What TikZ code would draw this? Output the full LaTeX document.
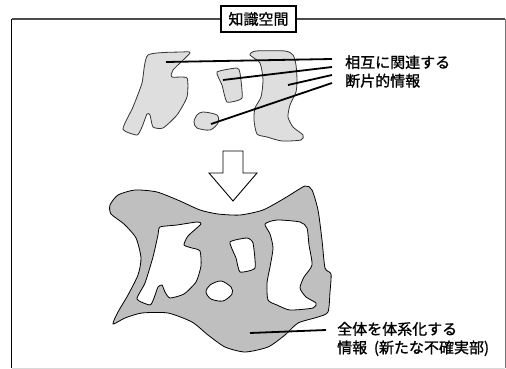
\documentclass[tikz,border=0pt]{standalone}
\usepackage{fontspec}
\setmainfont{Noto Sans CJK JP}[FakeBold=1.2,AutoFakeBold=1.2]
\begin{document}
\begin{tikzpicture}[x=1pt,y=-1pt,
  frag/.style={draw=black!80, line width=0.8pt, fill=black!13},
  whole/.style={draw=black, line width=0.8pt, fill=black!25, even odd rule},
  leader/.style={draw=black, line width=1.8pt},
  lbl/.style={inner sep=0pt, anchor=west, align=left, font=\fontsize{15}{18.5}\selectfont}]
\useasboundingbox (0,0) rectangle (506,369);
% frame
\draw[black!15, line width=1pt] (11.5,368) -- (505,368);
\draw[black!55, line width=1pt] (505,19) -- (505,368);
\draw[black!70, line width=1.2pt] (11.5,19) -- (505,19);
\draw[black, line width=1.3pt] (11.5,19) -- (11.5,368);
\node[draw, line width=1.6pt, fill=white, minimum width=75pt, minimum height=26pt, inner sep=0pt,
  font=\fontsize{15}{18}\selectfont] (title) at (258.5,19) {知識空間};
% fragments
\draw[frag] plot[smooth cycle, tension=0.35] coordinates {(148,55) (182,52) (190,53) (173,70) (172,77) (187,78) (187,97) (177,115) (163,128) (153,127) (150,115) (147,114) (142,127) (137,135) (123,129) (133,107) (142,83)};
\draw[frag] plot[smooth cycle, tension=0.3] coordinates {(217,72) (237,68) (240,73) (242,98) (227,102) (222,85)};
\draw[frag] plot[smooth cycle, tension=0.4] coordinates {(250,55) (256,51) (285,51) (293,55) (296,65) (297,80) (296,92) (290,105) (288,117) (293,127) (303,135) (301,140) (282,141) (267,137) (257,134) (254,120) (255,108) (261,97) (263,80) (260,63)};
\draw[frag] plot[smooth cycle, tension=0.5] coordinates {(197,115) (203,112) (217,115) (218,123) (210,130) (197,128) (194,122)};
% leader ends
\coordinate (f1) at (166,62);
\coordinate (f2) at (223,80);
\coordinate (f3) at (288,85);
\coordinate (f4) at (211,124);
\coordinate (e1) at (332,59);
\coordinate (e2) at (332,67);
\coordinate (e3) at (332,75);
\coordinate (e4) at (332,83);
\draw[leader] (f1) -- (e1);
\draw[leader] (f2) -- (e2);
\draw[leader] (f3) -- (e3);
\draw[leader] (f4) -- (e4);
\node[lbl] (toplabel) at (345,71.5) {相互に関連する\\断片的情報};
% arrow
\draw[black, line width=0.9pt, fill=white, line join=miter] (223,151) -- (243,151) -- (243,173) -- (257,173) -- (233,201) -- (209,173) -- (223,173) -- cycle;
% whole
\draw[whole]
  plot[smooth cycle, tension=0.4] coordinates {(110,205) (118,195) (135,190) (157,192) (180,201) (200,210) (218,214) (240,215) (263,210) (285,198) (305,186) (312,190) (318,210) (322,240) (325,268) (331,274) (330,292) (328,312) (318,317) (298,323) (285,335) (268,347) (245,352) (225,347) (208,335) (192,322) (168,313) (142,313) (125,318) (113,324) (118,312) (128,295) (138,275) (141,258) (136,238) (124,224) (111,214)}
  plot[smooth cycle, tension=0.35] coordinates {(160,227) (177,225) (197,222) (201,224) (188,236) (184,245) (192,248) (200,251) (201,266) (196,282) (184,294) (170,298) (165,292) (162,285) (158,287) (154,298) (150,305) (137,299) (145,283) (153,257) (158,235)}
  plot[smooth cycle, tension=0.3] coordinates {(230,242) (247,238) (253,243) (255,268) (240,272) (236,258)}
  plot[smooth cycle, tension=0.5] coordinates {(210,285) (221,281) (231,287) (232,294) (223,301) (211,299) (206,292)}
  plot[smooth cycle, tension=0.4] coordinates {(265,224) (277,220) (300,222) (307,228) (309,245) (312,265) (304,277) (300,288) (306,297) (316,303) (313,308) (290,310) (277,305) (268,300) (267,283) (270,267) (273,248) (270,234)};
\coordinate (w1) at (250,333);
\coordinate (w2) at (326,330);
\draw[leader] (w1) -- (w2);
\node[lbl] (botlabel) at (337,339) {全体を体系化する\\情報\hspace{0.45em}(新たな不確実部)};
\end{tikzpicture}
\end{document}
